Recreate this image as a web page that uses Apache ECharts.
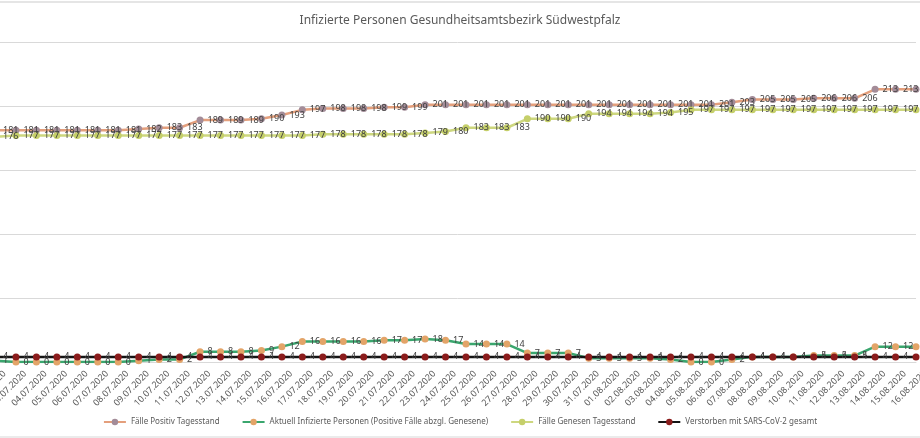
<!DOCTYPE html>
<html>
<head>
<meta charset="utf-8">
<script src="https://cdn.jsdelivr.net/npm/echarts@6/dist/echarts.min.js"></script>
<style>
  html, body { margin: 0; padding: 0; background: #fff; }
  #chart { width: 920px; height: 438px; }
</style>
</head>
<body>
<div id="chart"></div>
<script>
const dates = [
  '02.07.2020', '03.07.2020', '04.07.2020', '05.07.2020', '06.07.2020', '07.07.2020',
  '08.07.2020', '09.07.2020', '10.07.2020', '11.07.2020', '12.07.2020', '13.07.2020',
  '14.07.2020', '15.07.2020', '16.07.2020', '17.07.2020', '18.07.2020', '19.07.2020',
  '20.07.2020', '21.07.2020', '22.07.2020', '23.07.2020', '24.07.2020', '25.07.2020',
  '26.07.2020', '27.07.2020', '28.07.2020', '29.07.2020', '30.07.2020', '31.07.2020',
  '01.08.2020', '02.08.2020', '03.08.2020', '04.08.2020', '05.08.2020', '06.08.2020',
  '07.08.2020', '08.08.2020', '09.08.2020', '10.08.2020', '11.08.2020', '12.08.2020',
  '13.08.2020', '14.08.2020', '15.08.2020', '16.08.2020'
]

// Fälle Positiv Tagesstand
const positiv = [
  181, 181, 181, 181, 181, 181, 181, 182, 183, 183, 189, 189, 189, 190, 193, 197,
  198, 198, 198, 199, 199, 201, 201, 201, 201, 201, 201, 201, 201, 201, 201, 201,
  201, 201, 201, 201, 203, 205, 205, 205, 206, 206, 206, 213, 213, 213
]

// Aktuell Infizierte Personen
const aktuell = [
  1, 0, 0, 0, 0, 0, 0, 1, 2, 2, 8, 8, 8, 9, 12, 16,
  16, 16, 16, 17, 17, 18, 17, 14, 14, 14, 7, 7, 7, 3, 3, 3,
  3, 2, 0, 0, 2, 4, 4, 4, 5, 5, 5, 12, 12, 12
]

// Fälle Genesen Tagesstand
const genesen = [
  176, 177, 177, 177, 177, 177, 177, 177, 177, 177, 177, 177, 177, 177, 177, 177,
  178, 178, 178, 178, 178, 179, 180, 183, 183, 183, 190, 190, 190, 194, 194, 194,
  194, 195, 197, 197, 197, 197, 197, 197, 197, 197, 197, 197, 197, 197
]

// Verstorben mit SARS-CoV-2 gesamt
const verstorben = [
  4, 4, 4, 4, 4, 4, 4, 4, 4, 4, 4, 4, 4, 4, 4, 4,
  4, 4, 4, 4, 4, 4, 4, 4, 4, 4, 4, 4, 4, 4, 4, 4,
  4, 4, 4, 4, 4, 4, 4, 4, 4, 4, 4, 4, 4, 4
]

const yTicks = { min: 0, max: 250, interval: 50 }

const font = "'Noto Sans', sans-serif"

const dataLabel = {
  show: true,
  position: 'right',
  distance: 4,
  fontSize: 9,
  fontFamily: font,
  color: '#404040'
}

const lineSeries = (name, data, lineColor, markerColor, z) => {
  return {
    name: name,
    type: 'line',
    data: data,
    z: z,
    symbol: 'circle',
    symbolSize: 7,
    lineStyle: { color: lineColor, width: 2.5 },
    itemStyle: { color: markerColor, borderColor: markerColor, borderWidth: 0 },
    label: dataLabel,
    emphasis: { disabled: true },
    animation: false
  }
}

const option = {
  backgroundColor: '#fff',
  title: {
    text: 'Infizierte Personen Gesundheitsamtsbezirk Südwestpfalz',
    left: 'center',
    top: 10,
    textStyle: { fontSize: 12, fontWeight: 'normal', color: '#595959', fontFamily: font }
  },
  grid: {
    top: 42,
    bottom: 76,
    left: -4.5,
    right: 4,
    containLabel: false,
    outerBoundsMode: 'none'
  },
  legend: {
    bottom: 7,
    left: 'center',
    itemGap: 22,
    itemWidth: 22,
    itemHeight: 8,
    textStyle: { fontSize: 8, color: '#595959', fontFamily: font }
  },
  xAxis: {
    type: 'category',
    boundaryGap: false,
    data: dates,
    axisLine: { show: true, lineStyle: { color: '#d9d9d9' } },
    axisTick: { show: false },
    axisLabel: {
      rotate: 45,
      interval: 0,
      margin: 1,
      fontSize: 9,
      lineHeight: 26,
      verticalAlign: 'top',
      fontFamily: font,
      color: '#595959'
    }
  },
  yAxis: {
    type: 'value',
    min: yTicks.min,
    max: yTicks.max,
    interval: yTicks.interval,
    axisLabel: { show: false },
    axisLine: { show: false },
    axisTick: { show: false },
    splitLine: { lineStyle: { color: '#d9d9d9', width: 1 } }
  },
  graphic: [
    { type: 'line', shape: { x1: 0, y1: 2, x2: 920, y2: 2 }, style: { stroke: '#dcdcdc', lineWidth: 1.5 } },
    { type: 'line', shape: { x1: 0, y1: 437, x2: 920, y2: 437 }, style: { stroke: '#e4e4e4', lineWidth: 1.5 } }
  ],
  series: [
    lineSeries('Fälle Positiv Tagesstand', positiv, '#e49f7c', '#a38c98', 2),
    lineSeries('Aktuell Infizierte Personen (Positive Fälle abzgl. Genesene)', aktuell, '#3aa66e', '#e3a468', 3),
    lineSeries('Fälle Genesen Tagesstand', genesen, '#cdd77f', '#c5cf6a', 2),
    lineSeries('Verstorben mit SARS-CoV-2 gesamt', verstorben, '#141414', '#8b1c1c', 4)
  ]
}

const myChart = echarts.init(document.getElementById('chart'))
myChart.setOption(option)
</script>
</body>
</html>
